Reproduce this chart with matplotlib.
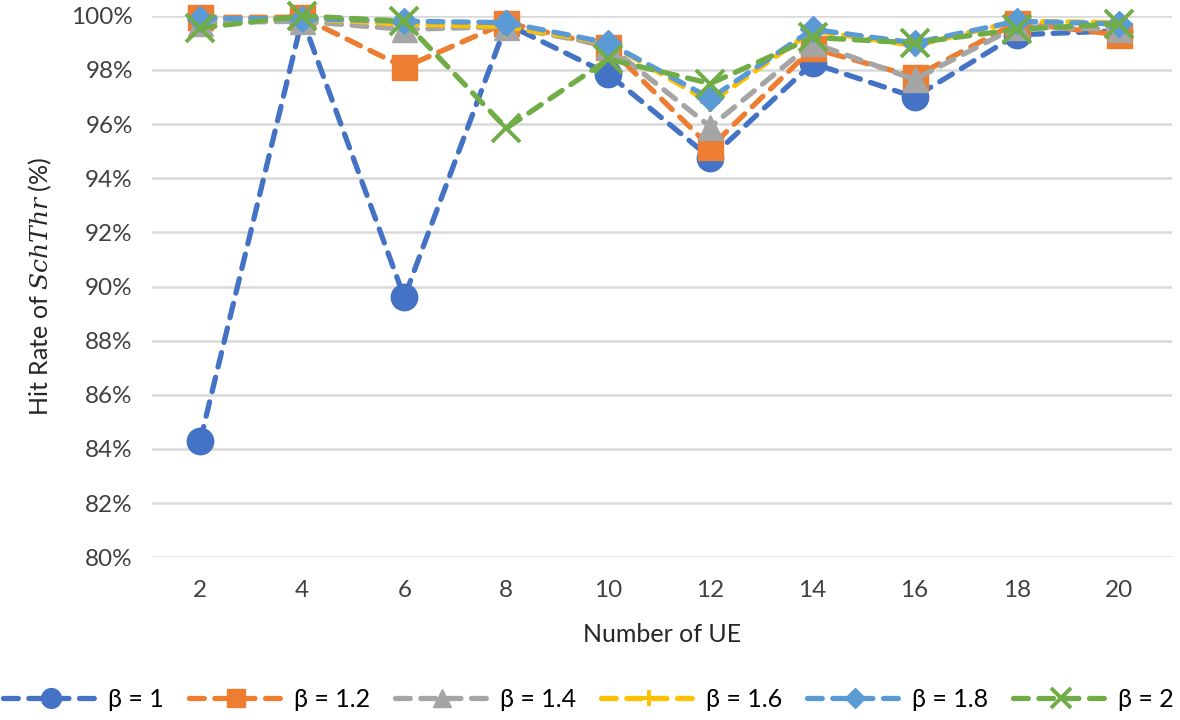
import matplotlib.pyplot as plt
from matplotlib.ticker import PercentFormatter

plt.rcParams['font.family'] = ['Lato', 'DejaVu Sans']
plt.rcParams['mathtext.fontset'] = 'dejavuserif'

# dados
num_ue = [2, 4, 6, 8, 10, 12, 14, 16, 18, 20]
beta_labels = ['β = 1', 'β = 1.2', 'β = 1.4', 'β = 1.6', 'β = 1.8', 'β = 2']
hit_b10 = [84.3, 99.9, 89.6, 99.7, 97.85, 94.75, 98.25, 97.0, 99.3, 99.45]
hit_b12 = [99.95, 99.95, 98.1, 99.75, 98.85, 95.15, 98.8, 97.75, 99.75, 99.3]
hit_b14 = [99.75, 99.8, 99.5, 99.6, 98.9, 95.9, 99.0, 97.65, 99.6, 99.5]
hit_b16 = [99.9, 99.9, 99.7, 99.6, 99.0, 96.8, 99.45, 98.9, 99.8, 99.75]
hit_b18 = [99.9, 99.9, 99.8, 99.75, 99.0, 96.95, 99.5, 99.0, 99.8, 99.7]
hit_b20 = [99.55, 100.0, 99.8, 95.85, 98.4, 97.5, 99.2, 99.0, 99.5, 99.7]

series = [hit_b10, hit_b12, hit_b14, hit_b16, hit_b18, hit_b20]
cores = ['#4472C4', '#ED7D31', '#A5A5A5', '#FFC000', '#5B9BD5', '#70AD47']
marcadores = ['o', 's', '^', '+', 'D', 'x']
tamanhos = [19, 18, 18, 15, 13, 20]

fig, ax = plt.subplots(figsize=(11.8, 7.2), dpi=100)
fig.subplots_adjust(left=0.129, right=0.993, top=0.978, bottom=0.226)

xpos = list(range(len(num_ue)))
for vals, cor, mk, ms, lab in zip(series, cores, marcadores, tamanhos, beta_labels):
    mew = 2.8 if mk in ('+', 'x') else 1
    ax.plot(xpos, vals, color=cor, lw=3.8, linestyle=(0, (2.8, 2.0)),
            dash_capstyle='round', marker=mk, markersize=ms,
            markeredgewidth=mew, markeredgecolor=cor, markerfacecolor=cor,
            label=lab, clip_on=False, zorder=3)

ax.set_ylim(80, 100)
ax.set_yticks(range(80, 101, 2))
ax.yaxis.set_major_formatter(PercentFormatter(decimals=0))
ax.set_xlim(-0.47, len(num_ue) - 0.48)
ax.set_xticks(xpos)
ax.set_xticklabels(num_ue)
ax.tick_params(length=0, labelsize=17.5, colors='#404040', pad=14)
ax.tick_params(axis='x', pad=16)
ax.grid(axis='y', color='#D9D9D9', lw=1.8)
ax.set_axisbelow(True)
for s in ax.spines.values():
    s.set_visible(False)

ax.set_xlabel('Number of UE', fontsize=18, color='#262626', labelpad=16)
ax.set_ylabel(r'Hit Rate of $\mathit{SchThr}$ (%)', fontsize=18, color='#262626', labelpad=12)

ax.legend(loc='center', bbox_to_anchor=(0.428, -0.262), ncol=6, frameon=False,
          fontsize=18, handlelength=3.8, columnspacing=1.0, handletextpad=0.4,
          markerscale=0.75, borderpad=0, borderaxespad=0)

plt.savefig('out.png', dpi=100)
